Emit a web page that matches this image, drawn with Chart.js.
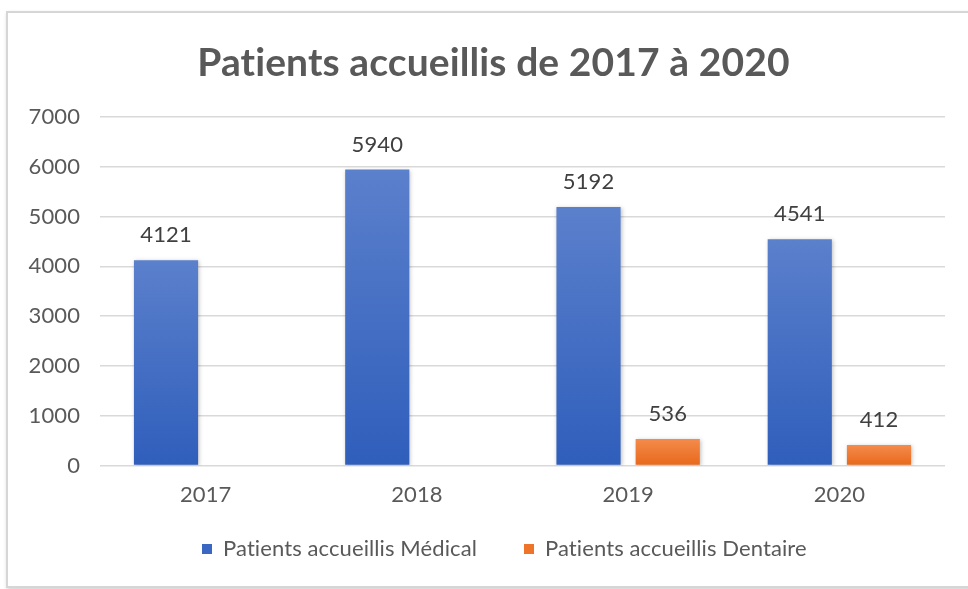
<!DOCTYPE html>
<html>
<head>
<meta charset="utf-8">
<script src="https://cdn.jsdelivr.net/npm/chart.js@4/dist/chart.umd.min.js"></script>
<style>
  html, body { margin: 0; padding: 0; background: #fff; overflow: hidden; }
  #frame {
    position: absolute; left: 6px; top: 11px; width: 990px; height: 573px;
    border: 2px solid #d6d6d6; box-shadow: 1px 2px 4px rgba(0,0,0,0.18);
  }
  #wrap { position: absolute; left: 0; top: 0; width: 968px; height: 589px; }
</style>
</head>
<body>
<div id="frame"></div>
<div id="wrap"><canvas id="patientsChart" width="968" height="589"></canvas></div>
<script>
// Data
const years = ['2017', '2018', '2019', '2020'];
const medical = [4121, 5940, 5192, 4541];
const dental = [null, null, 536, 412];
const yTicks = [0, 1000, 2000, 3000, 4000, 5000, 6000, 7000];

const FONT = 'Lato, "Open Sans", sans-serif';
const GREY = '#595959';

// vertical gradient for each bar, lighter at the top
function barGradient(context, top, bottom) {
  const chart = context.chart;
  if (!chart.chartArea || context.parsed == null || context.parsed.y == null) return bottom;
  const y = chart.scales.y;
  const y1 = y.getPixelForValue(context.parsed.y);
  const y0 = y.getPixelForValue(0);
  const g = chart.ctx.createLinearGradient(0, y1, 0, y0);
  g.addColorStop(0, top);
  g.addColorStop(1, bottom);
  return g;
}

// value labels above the bars
const valueLabels = {
  id: 'valueLabels',
  afterDatasetsDraw(chart) {
    const ctx = chart.ctx;
    ctx.save();
    ctx.font = '22px ' + FONT;
    ctx.fillStyle = '#404040';
    ctx.textAlign = 'center';
    ctx.textBaseline = 'middle';
    chart.data.datasets.forEach((ds, i) => {
      chart.getDatasetMeta(i).data.forEach((bar, j) => {
        if (ds.data[j] == null) return;
        ctx.fillText(ds.data[j], bar.x, bar.y - 25);
      });
    });
    ctx.restore();
  }
};

// soft shadow under the bars
const barShadow = {
  id: 'barShadow',
  beforeDatasetsDraw(chart) {
    chart.ctx.save();
    chart.ctx.shadowColor = 'rgba(0,0,0,0.25)';
    chart.ctx.shadowBlur = 4;
    chart.ctx.shadowOffsetX = 1;
    chart.ctx.shadowOffsetY = 1;
  },
  afterDatasetsDraw(chart) {
    chart.ctx.restore();
  }
};

// title and legend are centred on the whole frame, not just the plot;
// legend sits a bit closer to the axis labels
const centreOnFrame = {
  id: 'centreOnFrame',
  afterLayout(chart) {
    chart.titleBlock.right += 42;
    chart.legend.right += 59;
    chart.legend.top -= 33;
    chart.legend.bottom -= 33;
  },
  beforeDraw(chart) {
    // tiny spacing so Lato doesn't join "ti"
    chart.ctx.letterSpacing = '0.1px';
  }
};

const ctx = document.getElementById('patientsChart').getContext('2d');
const patientsChart = new Chart(ctx, {
  type: 'bar',
  data: {
    labels: years,
    datasets: [
      {
        label: 'Patients accueillis Médical',
        data: medical,
        backgroundColor: (c) => barGradient(c, '#5b80cc', '#2f5ebb'),
        borderWidth: 0
      },
      {
        label: 'Patients accueillis Dentaire',
        data: dental,
        backgroundColor: (c) => barGradient(c, '#f48b4c', '#e8681a'),
        borderWidth: 0
      }
    ]
  },
  options: {
    responsive: false,
    animation: false,
    categoryPercentage: 0.75,
    barPercentage: 0.81,
    layout: { padding: { top: 40, right: 23, bottom: -14, left: 0 } },
    plugins: {
      title: {
        display: true,
        text: 'Patients accueillis de 2017 à 2020',
        color: GREY,
        font: { family: FONT, size: 39, weight: 'bold' },
        padding: { top: 0, bottom: 30 }
      },
      legend: {
        position: 'bottom',
        labels: {
          color: GREY,
          font: { family: FONT, size: 22 },
          boxWidth: 10,
          boxHeight: 10,
          padding: 47,
          generateLabels(chart) {
            const cols = ['#3a67c2', '#ed7428'];
            return chart.data.datasets.map((ds, i) => ({
              text: ds.label,
              fillStyle: cols[i],
              strokeStyle: cols[i],
              lineWidth: 0,
              fontColor: GREY,
              datasetIndex: i
            }));
          }
        }
      },
      tooltip: { enabled: false }
    },
    scales: {
      x: {
        grid: { display: false, drawTicks: false },
        border: { display: false },
        ticks: { color: GREY, font: { family: FONT, size: 22 }, padding: 16 }
      },
      y: {
        min: 0,
        max: 7000,
        afterBuildTicks(scale) {
          scale.ticks = yTicks.map(v => ({ value: v }));
        },
        afterFit(scale) { scale.width = 100; },
        grid: { color: '#d9d9d9', lineWidth: 1.5, drawTicks: false },
        border: { display: false },
        ticks: {
          color: GREY,
          font: { family: FONT, size: 22 },
          padding: 20,
          callback: (v) => String(v)
        }
      }
    }
  },
  plugins: [centreOnFrame, barShadow, valueLabels]
});
</script>
</body>
</html>
